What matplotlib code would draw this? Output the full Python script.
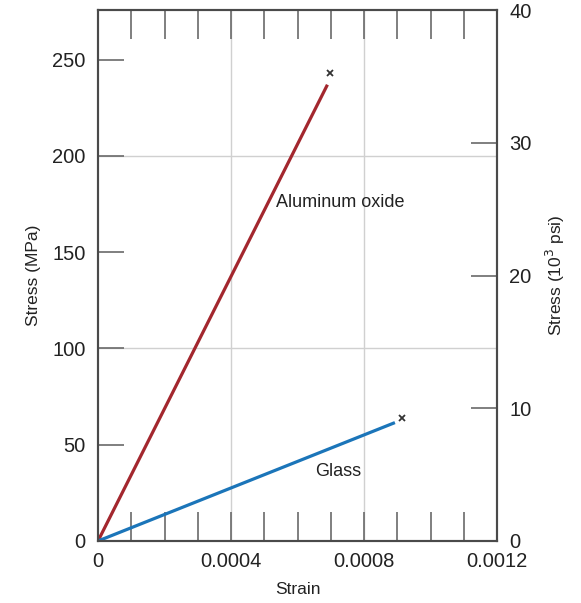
import matplotlib
matplotlib.use("Agg")
import matplotlib.pyplot as plt
from matplotlib.ticker import MultipleLocator

plt.rcParams['font.family'] = ['Liberation Sans', 'DejaVu Sans']

# Data (strain, stress in MPa)
alumina_strain = [0.0, 0.00069]
alumina_stress = [0.0, 237.0]
alumina_fracture = (0.000698, 243.0)
glass_strain = [0.0, 0.000893]
glass_stress = [0.0, 61.5]
glass_fracture = (0.000914, 63.7)

x_ticks = [0, 0.0004, 0.0008, 0.0012]
x_tick_labels = ["0", "0.0004", "0.0008", "0.0012"]
mpa_ticks = [0, 50, 100, 150, 200, 250]
ksi_ticks = [0, 10, 20, 30, 40]
KSI_TO_MPA = 6.895

red = "#a3272e"
blue = "#1b75b9"
spine_c = "#4a4a4a"
tick_c = "#6a6a6a"

fig = plt.figure(figsize=(5.81, 6.03), dpi=100)
ax = fig.add_axes([98/581, 62/603, 399/581, 531/603])

ax.set_xlim(0, 0.0012)
ax.set_ylim(0, 40 * KSI_TO_MPA)

# grid lines
for xv in [0.0004, 0.0008]:
    ax.axvline(xv, color="#d0d0d0", lw=1.0, zorder=0)
for yv in [100, 200]:
    ax.axhline(yv, color="#d0d0d0", lw=1.0, zorder=0)

ax.plot(alumina_strain, alumina_stress, color=red, lw=2.3, solid_capstyle='butt', zorder=3)
ax.plot(glass_strain, glass_stress, color=blue, lw=2.3, solid_capstyle='butt', zorder=3)
ax.plot(*alumina_fracture, marker='x', color="#333333", ms=5, mew=1.3, zorder=4)
ax.plot(*glass_fracture, marker='x', color="#333333", ms=5, mew=1.3, zorder=4)

ax.text(0.000728, 176, "Aluminum oxide", ha='center', va='center', fontsize=13, color="#222222")
ax.text(0.000722, 36, "Glass", ha='center', va='center', fontsize=13, color="#222222")

ax.set_xticks(x_ticks)
ax.set_xticklabels(x_tick_labels)
ax.xaxis.set_minor_locator(MultipleLocator(0.0001))
ax.set_yticks(mpa_ticks)
ax.tick_params(axis='x', which='both', direction='in', length=21, width=1.2, color=tick_c,
               top=True, bottom=True, labelsize=14.5, pad=8, labelcolor="#222222")
ax.tick_params(axis='y', which='both', direction='in', length=19, width=1.2, color=tick_c,
               left=True, right=False, labelsize=14.5, pad=9, labelcolor="#222222")

for s in ax.spines.values():
    s.set_color(spine_c)
    s.set_linewidth(1.5)

ax.set_xlabel("Strain", fontsize=12.5, labelpad=8, color="#222222")
ax.set_ylabel("Stress (MPa)", fontsize=12.5, labelpad=8, color="#222222")

ax2 = ax.twinx()
ax2.set_ylim(0, 40)
ax2.set_yticks(ksi_ticks)
ax2.tick_params(axis='y', direction='in', length=19, width=1.2, color=tick_c,
                labelsize=14.5, pad=9, labelcolor="#222222")
for s in ax2.spines.values():
    s.set_color(spine_c)
    s.set_linewidth(1.5)
ax2.set_ylabel("Stress (10$^3$ psi)", fontsize=12.5, labelpad=9, color="#222222")

fig.savefig("out.png", dpi=100)
